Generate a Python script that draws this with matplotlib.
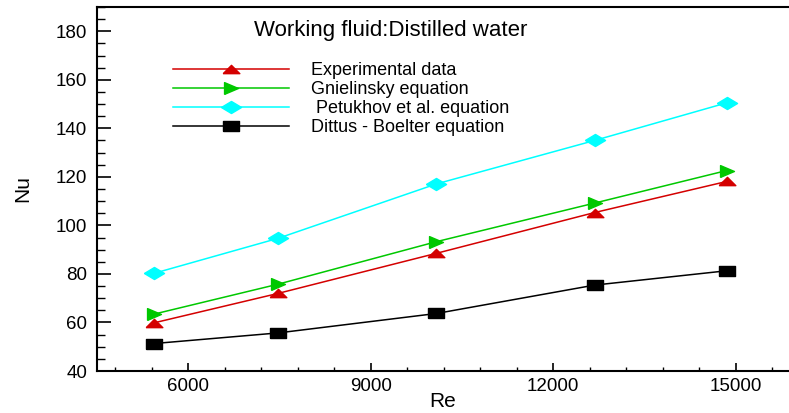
import matplotlib
matplotlib.use("Agg")
from matplotlib import pyplot as plt
from matplotlib.ticker import MultipleLocator

plt.rcParams['font.family'] = ['Liberation Sans', 'DejaVu Sans']

Re = [5430, 7480, 10080, 12680, 14850]

Nu_exp = [59.8, 72.0, 88.5, 105.3, 118.1]
Nu_gnielinsky = [63.4, 75.8, 93.3, 109.2, 122.6]
Nu_petukhov = [80.2, 94.7, 117.1, 135.0, 150.5]
Nu_dittus = [51.3, 55.7, 63.7, 75.4, 81.3]

labels = ["Experimental data", "Gnielinsky equation",
          " Petukhov et al. equation", "Dittus - Boelter equation"]

# squashed marker shapes (the original picture is stretched sideways)
tri_up = [(-1, -0.5), (1, -0.5), (0, 0.5), (-1, -0.5)]
tri_right = [(-1, -0.85), (1, 0), (-1, 0.85), (-1, -0.85)]
diamond = [(-1, 0), (0, 0.6), (1, 0), (0, -0.6), (-1, 0)]
square = [(-1, -0.55), (1, -0.55), (1, 0.55), (-1, 0.55), (-1, -0.55)]

W, H = 789, 413
fig = plt.figure(figsize=(W / 100, H / 100), dpi=100)
ax = fig.add_axes([97 / W, (H - 371) / H, 1 - 97 / W, 364 / H])

ax.plot(Re, Nu_exp, color='#d40000', lw=1.1, marker=tri_up, markersize=12, label=labels[0])
ax.plot(Re, Nu_gnielinsky, color='#00c800', lw=1.1, marker=tri_right, markersize=10, label=labels[1])
ax.plot(Re, Nu_petukhov, color='#00ffff', lw=1.1, marker=diamond, markersize=14.5, label=labels[2])
ax.plot(Re, Nu_dittus, color='black', lw=1.1, marker=square, markersize=12.2, label=labels[3])

ax.set_xlim(4500, 4500 + 692 * 3000 / 182.5)
ax.set_ylim(40, 190)

ax.xaxis.set_major_locator(MultipleLocator(3000))
ax.xaxis.set_minor_locator(MultipleLocator(600))
ax.yaxis.set_major_locator(MultipleLocator(20))
ax.yaxis.set_minor_locator(MultipleLocator(5))

ax.tick_params(axis='x', which='major', direction='in', length=6, width=1.2, labelsize=13.5, pad=5)
ax.tick_params(axis='x', which='minor', direction='in', length=3, width=1.0)
ax.tick_params(axis='y', which='major', direction='in', length=10, width=1.2, labelsize=13.5, pad=7)
ax.tick_params(axis='y', which='minor', direction='in', length=6, width=1.0)
ax.tick_params(top=False, right=False, which='both')

for s in ['left', 'bottom', 'top']:
    ax.spines[s].set_linewidth(1.5)
ax.spines['right'].set_visible(False)

ax.set_xlabel("Re", fontsize=15)
ax.set_ylabel("Nu", fontsize=15)
ax.xaxis.set_label_coords(0.5, -0.085)
ax.xaxis.label.set_va('center')
ax.yaxis.set_label_coords(-0.108, 0.5)
ax.yaxis.label.set_va('center')

fig.text(254 / W, 1 - 30.7 / H, "Working fluid:Distilled water", fontsize=16,
         ha='left', va='center')

ax.legend(loc='upper left', bbox_to_anchor=(173 / W, 1 - 62 / H),
          bbox_transform=fig.transFigure, frameon=False, fontsize=13,
          handlelength=6.4, handletextpad=1.27, labelspacing=0.12,
          borderpad=0, borderaxespad=0)

fig.savefig("out.png", dpi=100)
